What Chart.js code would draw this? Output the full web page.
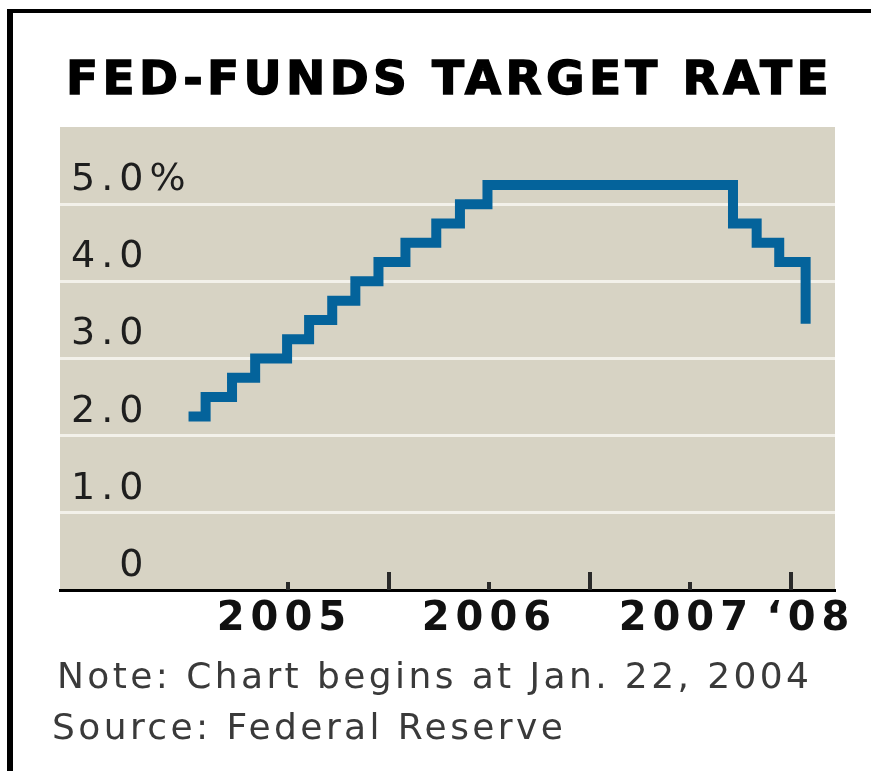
<!DOCTYPE html>
<html>
<head>
<meta charset="utf-8">
<script src="https://cdn.jsdelivr.net/npm/chart.js@4.4.1/dist/chart.umd.min.js"></script>
<style>
  html, body { margin: 0; padding: 0; background: #fff; }
  #wrap { position: relative; width: 871px; height: 771px; overflow: hidden; }
  #frame { position: absolute; left: 7px; top: 9px; right: -20px; bottom: -20px;
           border-left: 6px solid #000; border-top: 4px solid #000; pointer-events: none; }
  #title { position: absolute; left: 66px; top: 54px; font: bold 47px "DejaVu Sans", sans-serif;
           line-height: 47px; letter-spacing: 4.35px; color: #000; white-space: nowrap;
           -webkit-text-stroke: 1.4px #000; }
  .note { position: absolute; font: 36px "DejaVu Sans", sans-serif; line-height: 36px;
          letter-spacing: 3.4px; color: #3a3a3a; white-space: nowrap; }
  canvas { position: absolute; left: 0; top: 0; }
</style>
</head>
<body>
<div id="wrap">
  <canvas id="rateChart" width="871" height="771"></canvas>
  <div id="frame"></div>
  <div id="title">FED-FUNDS TARGET RATE</div>
  <div class="note" style="left:57px; top:658px;">Note: Chart begins at Jan. 22, 2004</div>
  <div class="note" style="left:52px; top:709px;">Source: Federal Reserve</div>
</div>
<script>
// target rate changes (date the new rate took effect, new rate in %)
const rateDates = [
  '2005-01-02', '2005-02-02', '2005-03-22', '2005-05-03', '2005-06-30',
  '2005-08-09', '2005-09-20', '2005-11-01', '2005-12-13', '2006-01-31',
  '2006-03-28', '2006-05-10', '2006-06-29', '2007-09-18', '2007-10-31',
  '2007-12-11', '2008-01-28'
];
const rateValues = [
  2.25, 2.5, 2.75, 3.0, 3.25,
  3.5, 3.75, 4.0, 4.25, 4.5,
  4.75, 5.0, 5.25, 4.75, 4.5,
  4.25, 3.45
];

const yearLabels = ['2005', '2006', '2007', '\u201808'];
const yearLabelAt = [2005.48, 2006.5, 2007.48, 2008.1];
const midYearTicks = [2005.5, 2006.5, 2007.5];
const yearStartTicks = [2006, 2007, 2008];
const rateTicks = [0, 1, 2, 3, 4, 5];

function toYear(s) {
  const [y, m, d] = s.split('-').map(Number);
  const start = Date.UTC(y, 0, 1);
  const end = Date.UTC(y + 1, 0, 1);
  return y + (Date.UTC(y, m - 1, d) - start) / (end - start);
}

const plotDecor = {
  id: 'plotDecor',
  beforeLayout(chart) {
    chart.ctx.letterSpacing = '6px';
  },
  beforeDraw(chart) {
    const { ctx, chartArea: a } = chart;
    ctx.save();
    ctx.fillStyle = '#d7d3c4';
    ctx.fillRect(a.left, a.top, a.right - a.left, a.bottom - a.top);
    ctx.restore();
    ctx.letterSpacing = '6px';
  },
  afterDatasetsDraw(chart) {
    const { ctx, chartArea: a, scales: { x } } = chart;
    ctx.save();
    ctx.strokeStyle = '#2a2a2a';
    ctx.lineWidth = 4;
    const mark = (v, len) => {
      const px = Math.round(x.getPixelForValue(v));
      ctx.beginPath();
      ctx.moveTo(px, a.bottom);
      ctx.lineTo(px, a.bottom - len);
      ctx.stroke();
    };
    midYearTicks.forEach(v => mark(v, 8));
    yearStartTicks.forEach(v => mark(v, 18));
    ctx.restore();
  }
};

new Chart(document.getElementById('rateChart'), {
  type: 'line',
  data: {
    datasets: [{
      data: rateDates.map((d, i) => ({ x: toYear(d), y: rateValues[i] })),
      stepped: true,
      borderColor: '#04639b',
      borderWidth: 10,
      borderJoinStyle: 'miter',
      borderCapStyle: 'butt',
      pointRadius: 0,
      fill: false
    }]
  },
  options: {
    responsive: false,
    animation: false,
    layout: { padding: { left: 38, top: 127, right: 36, bottom: 129 } },
    plugins: { legend: { display: false }, tooltip: { enabled: false } },
    scales: {
      x: {
        type: 'linear',
        min: 2004.363,
        max: 2008.22,
        grid: { display: false },
        border: { display: true, color: '#000', width: 3 },
        afterBuildTicks: scale => {
          scale.ticks = yearLabelAt.map(v => ({ value: v }));
        },
        ticks: {
          autoSkip: false,
          maxRotation: 0,
          padding: -2,
          color: '#111',
          font: { family: 'DejaVu Sans', size: 40, weight: 'bold' },
          callback: (v, i) => yearLabels[i]
        }
      },
      y: {
        min: 0,
        max: 6,
        afterBuildTicks: scale => {
          scale.ticks = rateTicks.map(v => ({ value: v }));
        },
        grid: {
          drawTicks: false,
          lineWidth: 3,
          color: ctx => (ctx.tick && ctx.tick.value > 0 && ctx.tick.value < 6) ? '#f3f1ea' : 'rgba(0,0,0,0)'
        },
        border: { display: false },
        ticks: {
          mirror: true,
          padding: 11,
          labelOffset: -24,
          color: '#1e1e1e',
          font: { family: 'DejaVu Sans', size: 38 },
          callback: v => v === 5 ? '5.0%' : v === 0 ? '\u2007 0' : v.toFixed(1)
        }
      }
    }
  },
  plugins: [plotDecor]
});
</script>
</body>
</html>
